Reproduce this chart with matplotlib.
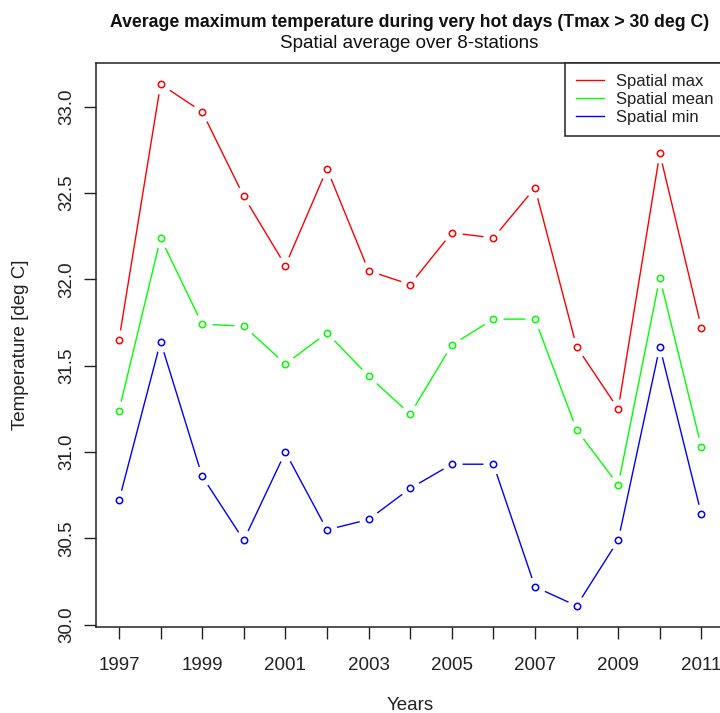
import matplotlib
matplotlib.use("Agg")
import matplotlib.pyplot as plt
import numpy as np

plt.rcParams["font.family"] = ["Liberation Sans", "DejaVu Sans"]

# Yearly values averaged over the 8 stations
years = list(range(1997, 2012))
spatial_max = [31.65, 33.13, 32.97, 32.48, 32.08, 32.64, 32.05, 31.97,
               32.27, 32.24, 32.53, 31.61, 31.25, 32.73, 31.72]
spatial_mean = [31.24, 32.24, 31.74, 31.73, 31.51, 31.69, 31.44, 31.22,
                31.62, 31.77, 31.77, 31.13, 30.81, 32.01, 31.03]
spatial_min = [30.72, 31.64, 30.86, 30.49, 31.00, 30.55, 30.61, 30.79,
               30.93, 30.93, 30.22, 30.11, 30.49, 31.61, 30.64]

series = [("Spatial max", spatial_max, "#FF0000"),
          ("Spatial mean", spatial_mean, "#00FF00"),
          ("Spatial min", spatial_min, "#0000FF")]

x_ticks = list(range(1997, 2012))
x_ticklabels = [str(y) if (y - 1997) % 2 == 0 else "" for y in x_ticks]
y_ticks = [30.0, 30.5, 31.0, 31.5, 32.0, 32.5, 33.0]

fig = plt.figure(figsize=(7.2, 7.13), dpi=100)
ax = fig.add_axes([0.1329, 0.1210, 0.8736, 0.7902])

for label, vals, col in series:
    ax.plot(years, vals, color=col, lw=1.0, zorder=2, label=label)
for label, vals, col in series:
    # white discs open a small gap in the lines around each point
    ax.plot(years, vals, ls="none", marker="o", ms=14.5, mfc="white",
            mec="none", zorder=3)
for label, vals, col in series:
    ax.plot(years, vals, ls="none", marker="o", ms=4.6, mfc="white",
            mec=col, mew=1.1, zorder=4)

# axis ranges padded by 4% of the data range on each side
xr = max(years) - min(years)
ax.set_xlim(min(years) - 0.04 * xr, max(years) + 0.04 * xr)
all_vals = spatial_max + spatial_mean + spatial_min
lo, hi = min(all_vals), max(all_vals)
yr = hi - lo
ax.set_ylim(lo - 0.04 * yr, hi + 0.04 * yr)

ax.set_xticks(x_ticks)
ax.set_xticklabels(x_ticklabels)
ax.set_yticks(y_ticks)
ax.set_yticklabels([f"{v:.1f}" for v in y_ticks], rotation=90, va="center")
ax.tick_params(direction="out", length=8.6, width=1.0, labelsize=13.5,
               colors="#222222", labelcolor="#222222")
ax.tick_params(axis="x", pad=13)
ax.tick_params(axis="y", pad=6)
for s in ax.spines.values():
    s.set_linewidth(1.1)
    s.set_color("#222222")

ax.set_xlabel("Years", fontsize=13.5, labelpad=17, color="#222222")
ax.set_ylabel("Temperature [deg C]", fontsize=13.5, labelpad=21, color="#222222")

fig.text(0.5688, 0.969, "Average maximum temperature during very hot days (Tmax > 30 deg C)",
         ha="center", va="center", fontsize=12.7, fontweight="bold", color="#111111")
fig.text(0.5688, 0.939, "Spatial average over 8-stations",
         ha="center", va="center", fontsize=13.5, color="#111111")

leg = ax.legend(loc="upper right", bbox_to_anchor=(1.0, 1.0), borderaxespad=0,
                fancybox=False, edgecolor="#222222", framealpha=1,
                fontsize=12, handlelength=1.67, handletextpad=0.74,
                labelspacing=0.17, borderpad=0.65)
leg.get_frame().set_linewidth(1.1)
for t in leg.get_texts():
    t.set_color("#222222")

fig.savefig("out.png", dpi=100)
